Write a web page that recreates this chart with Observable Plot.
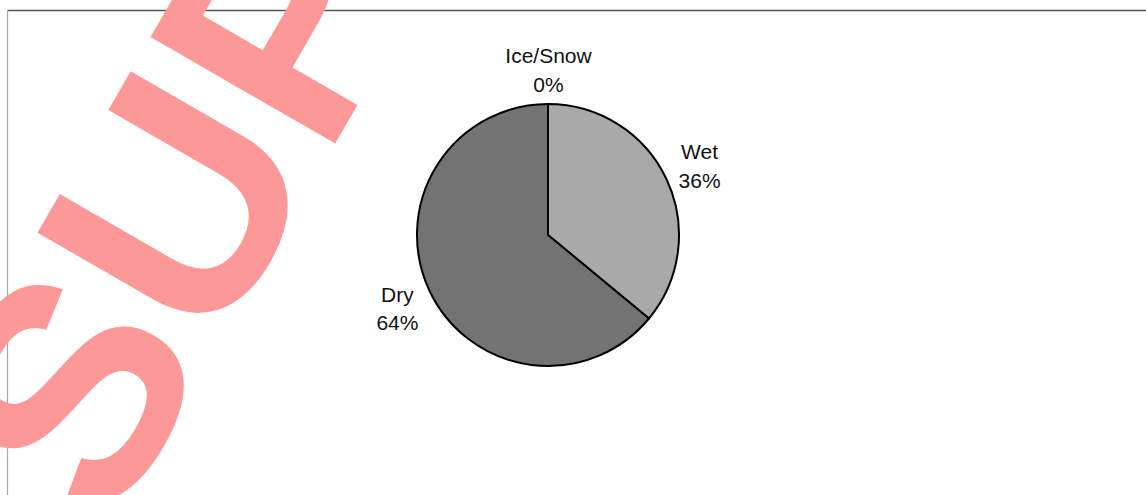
<!DOCTYPE html>
<html>
<head>
<meta charset="utf-8">
<script src="https://cdn.jsdelivr.net/npm/d3@7"></script>
<script src="https://cdn.jsdelivr.net/npm/@observablehq/plot@0.6"></script>
<style>
  html, body { margin: 0; padding: 0; background: #ffffff; }
  #chart svg { display: block; }
</style>
</head>
<body>
<div id="chart"></div>
<script>
// ---- data ----
const categories = ["Wet", "Dry", "Ice/Snow"];
const shares = [36, 64, 0];
const sliceColors = ["#a9a9a9", "#737373", "#d9d9d9"];
const watermark = "SUPERSEDED";

// ---- layout ----
const W = 1146, H = 495;
const cx = 548, cy = 235, R = 131, labelR = 167;

const rows = categories.map((c, i) => ({category: c, value: shares[i], color: sliceColors[i]}));
const pie = d3.pie().sort(null).value(d => d.value).startAngle(0).endAngle(2 * Math.PI);
const arcs = pie(rows);
const total = d3.sum(shares);
const labelArc = d3.arc().innerRadius(labelR).outerRadius(labelR);
const labels = arcs.map(a => {
  const [dx, dy] = labelArc.centroid(a);
  return {x: cx + dx, y: cy + dy, text: `${a.data.category}\n${Math.round(a.data.value / total * 100)}%`};
});

function pieMark(index, scales, values, dimensions) {
  const g = d3.create("svg:g")
    .attr("transform", `translate(${scales.x(cx)},${scales.y(cy)})`);
  const arc = d3.arc().innerRadius(0).outerRadius(scales.x(R) - scales.x(0));
  g.selectAll("path")
    .data(arcs.filter(a => a.data.value > 0))
    .join("path")
    .attr("d", arc)
    .attr("fill", a => a.data.color)
    .attr("stroke", "#000")
    .attr("stroke-width", 2)
    .attr("stroke-linejoin", "round");
  return g.node();
}

const chart = Plot.plot({
  width: W,
  height: H,
  margin: 0,
  x: {domain: [0, W], range: [0, W], axis: null},
  y: {domain: [0, H], range: [0, H], axis: null},
  style: {background: "#ffffff"},
  marks: [
    Plot.ruleY([10], {x1: 7, x2: W, stroke: "#555", strokeWidth: 1.6}),
    Plot.ruleX([7], {y1: 10, y2: H, stroke: "#a8a8a8", strokeWidth: 1.2}),
    pieMark,
    Plot.text(labels, {
      x: "x", y: "y", text: "text",
      fontSize: 21, lineHeight: 1.35,
      fontFamily: "Liberation Sans, Arial, sans-serif",
      fill: "#111", textAnchor: "middle"
    }),
    Plot.text([watermark], {
      x: () => 109, y: () => 534, text: d => d,
      rotate: -60, textAnchor: "start", lineAnchor: "bottom",
      fontSize: 310, fontWeight: "bold",
      fontFamily: "Liberation Sans, Arial, sans-serif",
      fill: "#fd9899"
    })
  ]
});

document.getElementById("chart").appendChild(chart);
</script>
</body>
</html>
